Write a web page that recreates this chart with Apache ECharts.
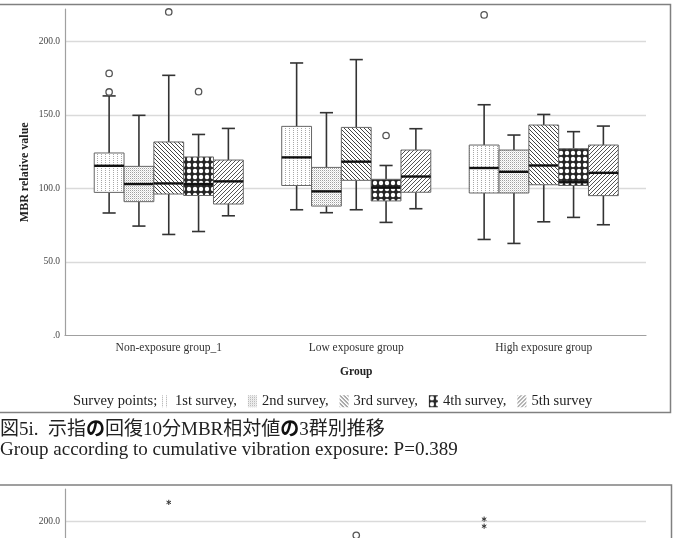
<!DOCTYPE html>
<html>
<head>
<meta charset="utf-8">
<script src="https://cdn.jsdelivr.net/npm/echarts@6/dist/echarts.min.js"></script>
<style>
  html, body { margin: 0; padding: 0; background: #fff; }
  #chart { width: 675px; height: 538px; }
</style>
</head>
<body>
<div id="chart"></div>
<script>
var groups = ['Non-exposure group_1', 'Low exposure group', 'High exposure group'];
var surveys = ['1st survey', '2nd survey', '3rd survey', '4th survey', '5th survey'];
var yMax = 222;

// [group, low whisker, q1, median, q3, high whisker]
var survey1 = [[0, 83.3, 97.3, 115.4, 124.1, 162.9], [1, 85.5, 102, 121.1, 142.2, 185.3], [2, 65.3, 96.9, 113.9, 129.5, 156.9]];
var survey2 = [[0, 74.4, 91, 103, 115, 149.7], [1, 83.5, 88, 98, 114.3, 151.5], [2, 62.6, 96.9, 111.3, 126.1, 136.3]];
var survey3 = [[0, 68.7, 96.2, 103.4, 131.6, 176.9], [1, 85.5, 105.5, 118.2, 141.5, 187.6], [2, 77.3, 102.5, 115.6, 143.1, 150.3]];
var survey4 = [[0, 70.7, 95.2, 103, 121.4, 136.7], [1, 76.9, 91.5, 100.5, 106.2, 115.6], [2, 80.3, 102, 104.2, 127, 138.6]];
var survey5 = [[0, 81.4, 89.4, 104.8, 119.3, 140.8], [1, 86.2, 97.4, 108.1, 126.1, 140.6], [2, 75.3, 95.1, 110.6, 129.5, 142.4]];
var boxData = [survey1, survey2, survey3, survey4, survey5];

// [group, survey index, value]
var outliers = [[0, 0, 178.2], [0, 0, 165.6], [0, 2, 220], [0, 3, 165.8], [1, 3, 136], [2, 0, 218]];

// top of the next figure, cut off by the page
var nextCircles = [[1, 2, 190.5]];
var nextStars = [[0, 2, 212.9], [2, 0, 201.5], [2, 0, 196.7]];

var SERIF = "'Liberation Serif', 'Noto Sans CJK JP', serif";
var BOX_FRAC = 0.159;

function makePattern(size, bg, draw) {
  var c = document.createElement('canvas');
  c.width = size; c.height = size;
  var ctx = c.getContext('2d');
  ctx.fillStyle = bg;
  ctx.fillRect(0, 0, size, size);
  draw(ctx);
  return { image: c, repeat: 'repeat' };
}

var patterns = [
  makePattern(4, '#fff', function (ctx) {
    ctx.fillStyle = '#a8a8a8';
    ctx.fillRect(1, 0, 1, 1);
    ctx.fillRect(1, 2, 1, 1);
  }),
  makePattern(2, '#fff', function (ctx) {
    ctx.fillStyle = '#a0a0a0';
    ctx.fillRect(0, 0, 1, 1);
    ctx.fillStyle = '#dedede';
    ctx.fillRect(1, 1, 1, 1);
  }),
  makePattern(4, '#fff', function (ctx) {
    ctx.fillStyle = '#444';
    for (var i = 0; i < 4; i++) ctx.fillRect(i, i, 1, 1);
  }),
  makePattern(6, '#262626', function (ctx) {
    ctx.fillStyle = '#fff';
    ctx.beginPath();
    ctx.arc(3, 3, 2.2, 0, Math.PI * 2);
    ctx.fill();
  }),
  makePattern(4, '#fff', function (ctx) {
    ctx.fillStyle = '#555';
    for (var i = 0; i < 4; i++) ctx.fillRect(3 - i, i, 1, 1);
  })
];

function xFor(api, g, si) {
  var c = api.coord([g, 0]);
  var w = api.size([1, 0])[0] * BOX_FRAC;
  return { x: c[0] + (si - 2) * w, w: w };
}

function makeBoxRender(si) {
  return function (params, api) {
    var g = api.value(0);
    var p = xFor(api, g, si);
    var cx = p.x, w = p.w, cap = w * 0.22;
    var yLow = api.coord([g, api.value(1)])[1];
    var yQ1 = api.coord([g, api.value(2)])[1];
    var yMed = api.coord([g, api.value(3)])[1];
    var yQ3 = api.coord([g, api.value(4)])[1];
    var yHigh = api.coord([g, api.value(5)])[1];
    var ws = { stroke: '#333', lineWidth: 1.6 };
    return {
      type: 'group',
      children: [
        { type: 'line', shape: { x1: cx, y1: yHigh, x2: cx, y2: yQ3 }, style: ws },
        { type: 'line', shape: { x1: cx, y1: yQ1, x2: cx, y2: yLow }, style: ws },
        { type: 'line', shape: { x1: cx - cap, y1: yHigh, x2: cx + cap, y2: yHigh }, style: ws },
        { type: 'line', shape: { x1: cx - cap, y1: yLow, x2: cx + cap, y2: yLow }, style: ws },
        { type: 'rect', shape: { x: cx - w / 2, y: yQ3, width: w, height: yQ1 - yQ3 },
          style: { fill: patterns[si], stroke: '#666', lineWidth: 1 } },
        { type: 'line', shape: { x1: cx - w / 2, y1: yMed, x2: cx + w / 2, y2: yMed },
          style: { stroke: '#111', lineWidth: 2.4 } }
      ]
    };
  };
}

function circleRender(params, api) {
  var p = xFor(api, api.value(0), api.value(1));
  var y = api.coord([api.value(0), api.value(2)])[1];
  return { type: 'circle', shape: { cx: p.x, cy: y, r: 3.2 },
    style: { fill: '#fff', stroke: '#555', lineWidth: 1.3 } };
}

function starRender(params, api) {
  var p = xFor(api, api.value(0), api.value(1));
  var y = api.coord([api.value(0), api.value(2)])[1];
  var r = 2.6;
  return {
    type: 'group',
    children: [0, 60, 120].map(function (a) {
      var t = a * Math.PI / 180;
      return { type: 'line',
        shape: { x1: p.x - r * Math.sin(t), y1: y - r * Math.cos(t), x2: p.x + r * Math.sin(t), y2: y + r * Math.cos(t) },
        style: { stroke: '#333', lineWidth: 1 } };
    })
  };
}

function yLabel(v) { return v === 0 ? '.0' : v.toFixed(1); }

function frameYAxis(gridIndex, withName) {
  var ax = {
    gridIndex: gridIndex, type: 'value', min: 0, max: yMax, interval: 50,
    axisLine: { show: true, lineStyle: { color: '#a0a0a0', width: 1.2 } },
    axisTick: { show: false },
    axisLabel: { formatter: yLabel, fontSize: 9.5, color: '#444', fontFamily: SERIF, margin: 5, showMaxLabel: false },
    splitLine: { show: true, showMinLine: false, showMaxLine: false, lineStyle: { color: '#dadada', width: 1.3 } }
  };
  if (withName) {
    ax.name = 'MBR relative value';
    ax.nameLocation = 'middle';
    ax.nameGap = 34;
    ax.nameMoveOverlap = false;
    ax.nameTextStyle = { fontFamily: SERIF, fontWeight: 'bold', fontSize: 12, color: '#222' };
  }
  return ax;
}

var chart = echarts.init(document.getElementById('chart'), null, { renderer: 'canvas' });

var series = surveys.map(function (name, si) {
  return {
    name: name, type: 'custom', xAxisIndex: 1, yAxisIndex: 1,
    itemStyle: { color: patterns[si], borderWidth: 0 },
    renderItem: makeBoxRender(si),
    encode: { x: 0, y: [1, 2, 3, 4, 5] },
    data: boxData[si]
  };
});
series.push({ type: 'custom', xAxisIndex: 1, yAxisIndex: 1, renderItem: circleRender, encode: { x: 0, y: 2 }, data: outliers, z: 3 });
series.push({ type: 'custom', xAxisIndex: 3, yAxisIndex: 3, renderItem: circleRender, encode: { x: 0, y: 2 }, data: nextCircles });
series.push({ type: 'custom', xAxisIndex: 3, yAxisIndex: 3, renderItem: starRender, encode: { x: 0, y: 2 }, data: nextStars });

chart.setOption({
  animation: false,
  backgroundColor: '#fff',
  grid: [
    { left: 65, right: 29, top: 9, height: 326.5, outerBoundsMode: 'none' },
    { left: 75, width: 562.5, top: 9, height: 326.5, outerBoundsMode: 'none' },
    { left: 65, right: 29, top: 489, height: 326.5, outerBoundsMode: 'none' },
    { left: 75, width: 562.5, top: 489, height: 326.5, outerBoundsMode: 'none' }
  ],
  xAxis: [
    { gridIndex: 0, type: 'value', min: 0, max: 1, axisLine: { show: true, onZero: false, lineStyle: { color: '#a0a0a0', width: 1.2 } },
      axisTick: { show: false }, axisLabel: { show: false }, splitLine: { show: false } },
    { gridIndex: 1, type: 'category', data: groups, axisLine: { show: false }, axisTick: { show: false },
      axisLabel: { fontFamily: SERIF, fontSize: 11.5, color: '#333', margin: 7 },
      name: 'Group', nameLocation: 'middle', nameGap: 31,
      nameTextStyle: { fontFamily: SERIF, fontWeight: 'bold', fontSize: 11.5, color: '#222' } },
    { gridIndex: 2, type: 'value', min: 0, max: 1, show: false },
    { gridIndex: 3, type: 'category', data: groups, show: false }
  ],
  yAxis: [
    frameYAxis(0, true),
    { gridIndex: 1, type: 'value', min: 0, max: yMax, show: false },
    frameYAxis(2, false),
    { gridIndex: 3, type: 'value', min: 0, max: yMax, show: false }
  ],
  legend: {
    data: surveys,
    left: 161, top: 394, padding: 0,
    icon: 'rect', itemWidth: 9, itemHeight: 12, itemGap: 11,
    itemStyle: { borderWidth: 0 },
    textStyle: { fontFamily: SERIF, fontSize: 14.5, color: '#222' },
    formatter: function (name) { return name === surveys[surveys.length - 1] ? name : name + ','; },
    selectedMode: false
  },
  graphic: [
    { type: 'rect', shape: { x: -2, y: 4.5, width: 672.5, height: 408 }, style: { fill: 'none', stroke: '#808080', lineWidth: 1.5 }, silent: true },
    { type: 'rect', shape: { x: -2, y: 485, width: 673.5, height: 200 }, style: { fill: 'none', stroke: '#808080', lineWidth: 1.5 }, silent: true },
    { type: 'text', left: 73, top: 394, style: { text: 'Survey points;', fontFamily: SERIF, fontSize: 14.5, fill: '#222' } },
    { type: 'text', left: 0, top: 421, style: {
        text: '図5i.  示指{b|の}回復10分MBR相対値{b|の}3群別推移',
        fontFamily: SERIF, fontSize: 19, fill: '#222',
        rich: { b: { fontWeight: 'bold', fontFamily: SERIF, fontSize: 19, fill: '#111' } } } },
    { type: 'text', left: 0, top: 441, style: {
        text: 'Group according to cumulative vibration exposure: P=0.389',
        fontFamily: SERIF, fontSize: 19, fill: '#222' } }
  ],
  series: series
});

window.onresize = function () { chart.resize(); };
</script>
</body>
</html>
